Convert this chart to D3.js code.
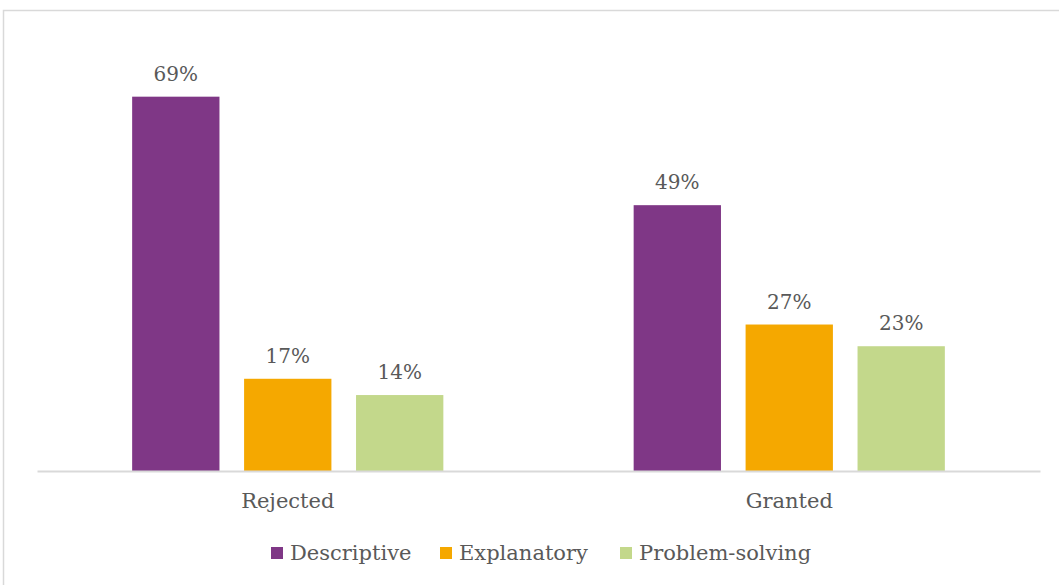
<!DOCTYPE html>
<html><head><meta charset="utf-8">
<script src="https://cdn.jsdelivr.net/npm/d3@7"></script>
<style>body{margin:0;background:#fff}svg{display:block}</style>
</head><body>
<script>
const categories = ["Rejected", "Granted"];
const seriesNames = ["Descriptive", "Explanatory", "Problem-solving"];
const descriptive = [69, 49];
const explanatory = [17, 27];
const problemSolving = [14, 23];
const seriesValues = [descriptive, explanatory, problemSolving];
const colors = ["#7F3786", "#F5A800", "#C3D88B"];

const W = 1059, H = 585;
const svg = d3.select("body").append("svg").attr("width", W).attr("height", H);
const font = "'DejaVu Serif', serif";
const textColor = "#595959";

svg.append("rect").attr("x", 3.5).attr("y", 10.5).attr("width", W + 10).attr("height", H + 10)
  .attr("fill", "#fff").attr("stroke", "#d9d9d9").attr("stroke-width", 1.5);

const plotLeft = 37, plotRight = 1040, plotBase = 471, plotTop = 37;
const x0 = d3.scaleBand().domain(categories).range([plotLeft, plotRight]).paddingInner(0).paddingOuter(0);
const x1 = d3.scaleBand().domain(seriesNames).range([0, x0.bandwidth()]).paddingInner(0.22).paddingOuter(0.85);
const y = d3.scaleLinear().domain([0, 80]).range([plotBase, plotTop]);

const data = [];
categories.forEach((c, i) => seriesNames.forEach((s, j) => data.push({c, s, v: seriesValues[j][i], j})));

svg.append("g").selectAll("rect").data(data).join("rect")
  .attr("x", d => x0(d.c) + x1(d.s)).attr("width", x1.bandwidth())
  .attr("y", d => y(d.v)).attr("height", d => y(0) - y(d.v))
  .attr("fill", d => colors[d.j]);

svg.append("g").selectAll("text").data(data).join("text")
  .attr("x", d => x0(d.c) + x1(d.s) + x1.bandwidth() / 2)
  .attr("y", d => y(d.v) - 16)
  .attr("text-anchor", "middle").attr("font-family", font).attr("font-size", 20)
  .attr("fill", textColor).text(d => d.v + "%");

const xAxis = svg.append("g").attr("transform", `translate(0,${plotBase})`)
  .call(d3.axisBottom(x0).tickSize(0).tickPadding(22));
xAxis.select(".domain").attr("stroke", "#d9d9d9").attr("stroke-width", 2);
xAxis.selectAll("text").attr("font-family", font).attr("font-size", 21).attr("fill", textColor);

const legendX = [271, 440, 620];
const lg = svg.append("g").selectAll("g").data(seriesNames).join("g")
  .attr("transform", (d, i) => `translate(${legendX[i]},553)`);
lg.append("rect").attr("x", 0).attr("y", -6).attr("width", 12).attr("height", 12).attr("fill", (d, i) => colors[i]);
lg.append("text").attr("x", 19).attr("y", 6.5).attr("font-family", font).attr("font-size", 21)
  .attr("fill", textColor).text(d => d);
</script>
</body></html>
